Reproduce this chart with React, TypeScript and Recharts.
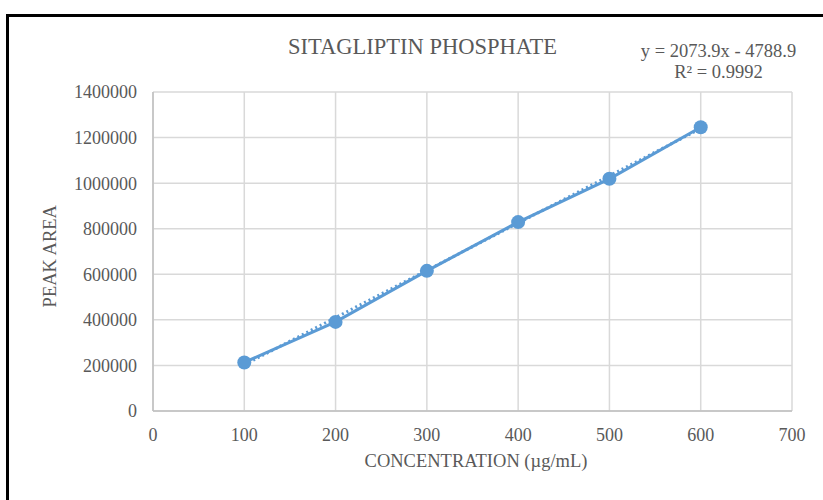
import React from 'react';
import { ComposedChart, Line, XAxis, YAxis, CartesianGrid } from 'recharts';

const concentrations = [100, 200, 300, 400, 500, 600];
const peakAreas = [213000, 391000, 615000, 829000, 1019000, 1245000];
const trendX = [100, 600];
const trendY = [202601, 1239551];
const xTicks = [0, 100, 200, 300, 400, 500, 600, 700];
const yTicks = [0, 200000, 400000, 600000, 800000, 1000000, 1200000, 1400000];

const points = concentrations.map((x, i) => ({ x, y: peakAreas[i] }));
const trend = trendX.map((x, i) => ({ x, t: trendY[i] }));

const BLUE = '#5b9bd5';
const GRAY = '#595959';
const FONT = '"Liberation Serif", "Times New Roman", serif';

export default function App() {
  return (
    <div style={{ position: 'absolute', left: 0, top: 0, width: 823, height: 500, overflow: 'hidden', background: '#fff', fontFamily: FONT }}>
      <div style={{ position: 'absolute', left: 6, top: 14, width: 900, height: 600, borderLeft: '3px solid #000', borderTop: '3px solid #000' }} />
      <div style={{ position: 'absolute', left: 0, top: 0 }}>
        <ComposedChart width={823} height={500} margin={{ top: 92, right: 31, bottom: 59, left: 73 }}>
          <CartesianGrid stroke="#d9d9d9" strokeWidth={1.5} />
          <XAxis
            dataKey="x"
            type="number"
            domain={[0, 700]}
            ticks={xTicks}
            height={30}
            tickLine={false}
            tickSize={0}
            tickMargin={17}
            stroke="#bfbfbf"
            strokeWidth={1.5}
            tick={{ fill: GRAY, fontSize: 18, fontFamily: FONT }}
            allowDataOverflow
          />
          <YAxis
            type="number"
            domain={[0, 1400000]}
            ticks={yTicks}
            width={80}
            tickLine={false}
            tickSize={0}
            tickMargin={16}
            stroke="#bfbfbf"
            strokeWidth={1.5}
            tick={{ fill: GRAY, fontSize: 18, fontFamily: FONT }}
            allowDataOverflow
          />
          <Line
            data={trend}
            dataKey="t"
            type="linear"
            stroke={BLUE}
            strokeWidth={3}
            strokeDasharray="2 3"
            dot={false}
            activeDot={false}
            isAnimationActive={false}
          />
          <Line
            data={points}
            dataKey="y"
            type="linear"
            stroke={BLUE}
            strokeWidth={3}
            dot={{ r: 7, fill: BLUE, stroke: BLUE, strokeWidth: 0 }}
            activeDot={false}
            isAnimationActive={false}
          />
        </ComposedChart>
      </div>
      <div style={{ position: 'absolute', left: 0, width: 845, top: 35.6, lineHeight: '22.5px', textAlign: 'center', fontSize: 22.5, color: GRAY, whiteSpace: 'nowrap' }}>
        SITAGLIPTIN PHOSPHATE
      </div>
      <div style={{ position: 'absolute', left: 618.5, width: 200, top: 41, textAlign: 'center', fontSize: 18.5, color: GRAY, lineHeight: '20.5px', whiteSpace: 'nowrap' }}>
        <div>y = 2073.9x - 4788.9</div>
        <div>R² = 0.9992</div>
      </div>
      <div style={{ position: 'absolute', left: 476 - 150, width: 300, top: 451.6, lineHeight: '18.5px', textAlign: 'center', fontSize: 18.5, color: GRAY, whiteSpace: 'nowrap' }}>
        CONCENTRATION (µg/mL)
      </div>
      <div style={{ position: 'absolute', left: 50 - 100, width: 200, top: 256.5 - 9.25, height: 18.5, lineHeight: '18.5px', textAlign: 'center', fontSize: 18.5, color: GRAY, transform: 'rotate(-90deg)', whiteSpace: 'nowrap' }}>
        PEAK AREA
      </div>
    </div>
  );
}
